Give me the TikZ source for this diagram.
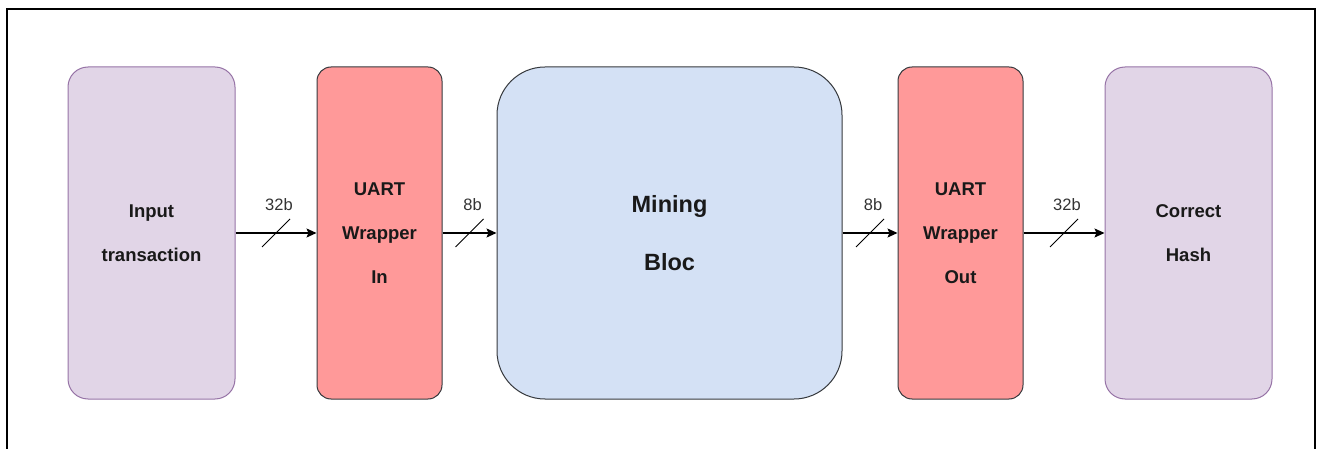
\documentclass[tikz,border=0pt]{standalone}
\usepackage{fontspec}
\setmainfont{Liberation Sans}
\usetikzlibrary{arrows.meta,calc}
\definecolor{lilacfill}{HTML}{E1D5E7}
\definecolor{lilacline}{HTML}{9673A6}
\definecolor{redfill}{HTML}{FF9999}
\definecolor{blockline}{HTML}{36393D}
\definecolor{bluefill}{HTML}{D4E1F5}
\definecolor{labelgray}{HTML}{333333}
\tikzset{
  x=1pt, y=-1pt,
  block/.style={draw, line width=1pt, inner sep=0pt, align=center,
    font=\bfseries\fontsize{18.5}{44}\selectfont, text=black!90,
    minimum height=332pt},
  endpoint/.style={block, fill=lilacfill, draw=lilacline, rounded corners=20pt, minimum width=167pt},
  wrapper/.style={block, fill=redfill, draw=blockline, rounded corners=14pt, minimum width=125pt},
  core/.style={block, fill=bluefill, draw=blockline, rounded corners=48pt, minimum width=345pt,
    font=\bfseries\fontsize{23.5}{58}\selectfont},
  link/.style={line width=1.2pt, -{Stealth[length=10pt,width=9pt,inset=2pt]}},
  tick/.style={line width=0.8pt},
  buswidth/.style={font=\fontsize{16.5}{18}\selectfont, text=labelgray, inner sep=0pt}
}
\begin{document}
\begin{tikzpicture}
\useasboundingbox (0,0) rectangle (1318,449);
% outer frame, open at the bottom
\draw[line width=1.3pt] (7,449) -- (7,9) -- (1315,9) -- (1315,449);

\node[endpoint] (src)  at (151.5,233) {Input\\transaction};
\node[wrapper]  (win)  at (379.5,233) {UART\\Wrapper\\In};
\node[core]     (mine) at (669.5,233) {Mining\\Bloc};
\node[wrapper]  (wout) at (960.5,233) {UART\\Wrapper\\Out};
\node[endpoint] (dst)  at (1188.5,233) {Correct\\Hash};

% bus connectors with width ticks
\foreach \a/\b/\w [count=\i] in {src/win/32b, win/mine/8b, mine/wout/8b, wout/dst/32b}{
  \draw[link] (\a.east) -- coordinate (m\i) (\b.west);
  \draw[tick] ($(m\i)+(-14,14)$) -- ($(m\i)+(14,-14)$);
  \node[buswidth] (lbl\i) at ($(m\i)+(3,-28)$) {\w};
}
\end{tikzpicture}
\end{document}
